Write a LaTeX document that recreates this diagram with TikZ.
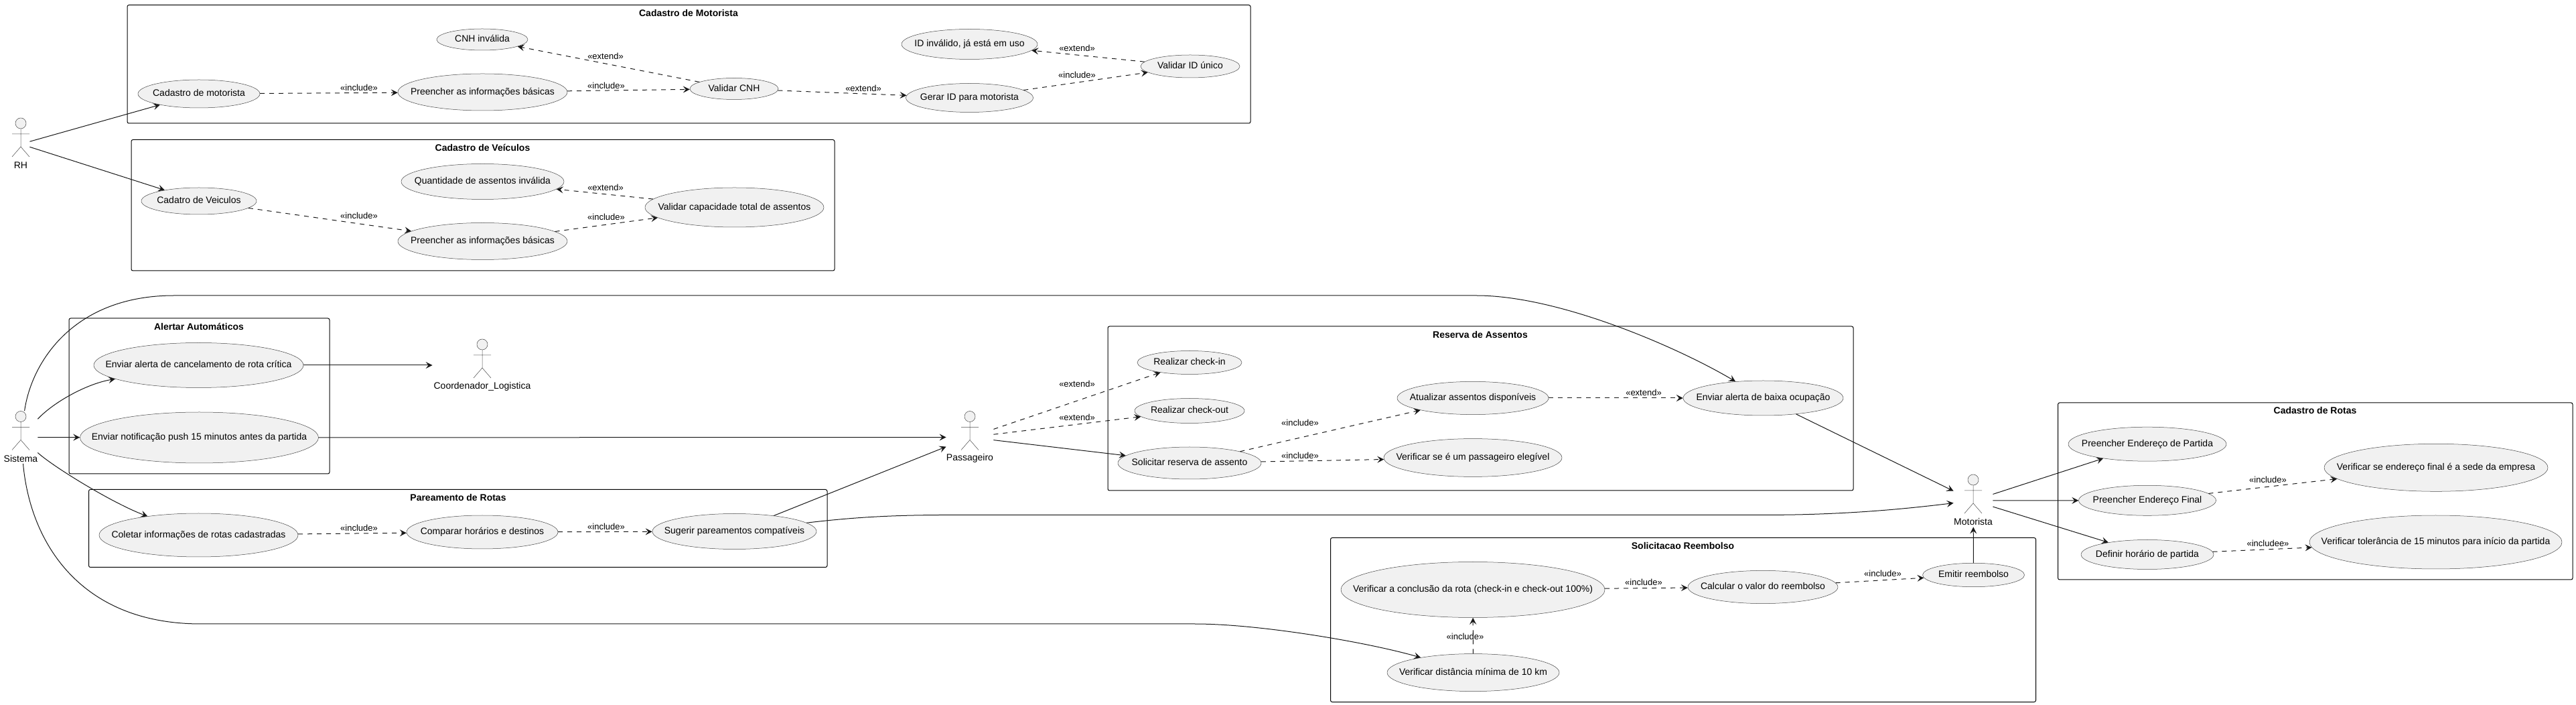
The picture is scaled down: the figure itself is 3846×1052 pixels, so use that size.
\documentclass[tikz,border=0pt]{standalone}
\usepackage{fontspec}
\setmainfont{Liberation Sans}
\usetikzlibrary{arrows.meta,shapes.geometric,fit}
\definecolor{ink}{HTML}{181818}
\definecolor{ucfill}{HTML}{F1F1F1}
\tikzset{
  ucase/.style={ellipse,draw=ink!80,fill=ucfill,line width=.25pt,inner sep=0pt,font=\fontsize{7}{8}\selectfont},
  frm/.style={draw=black,rounded corners=1.25pt,line width=.5pt,inner sep=0pt},
  ftitle/.style={font=\fontsize{7}{8}\bfseries\selectfont,inner sep=0pt},
  rel/.style={draw=ink,line width=.5pt,-{Stealth[length=5pt,width=5pt,inset=2pt]}},
  dep/.style={rel,dash pattern=on 3.5pt off 3.5pt},
  tag/.style={font=\fontsize{6.5}{7.5}\selectfont,inner sep=0pt,text=black},
  actorbox/.style={inner sep=0pt,minimum height=39pt},
  actorline/.style={draw=ink!80,line width=.25pt},
  actortext/.style={font=\fontsize{7}{8}\selectfont,inner sep=0pt},
}
\newcommand{\uc}[6]{\node[ucase,minimum width=#4pt,minimum height=#5pt] (#1) at (#2,#3) {\makebox[0pt]{\rule{0pt}{.72em}\rule[-.21em]{0pt}{.21em}#6}};}
\newcommand{\actr}[5]{%
  \node[actorbox,minimum width=#4*0.5pt] (#1) at ({#2},{#3+39}) {};
  \node[actortext] (#1-name) at ({#2},{#3+70.5}) {#5};
  \begin{scope}[shift={(#2,#3)}]
    \draw[actorline,fill=ucfill] (0,8) circle[radius=8];
    \draw[actorline] (0,16) -- (0,43) (-13,24) -- (13,24) (-13,58) -- (0,43) -- (13,58);
  \end{scope}}
\begin{document}
\begin{tikzpicture}[x=.5pt,y=-.5pt]
\useasboundingbox (0,0) rectangle (3846,1052);
% frames
\node[frm,fit={(190,7.5)(1867,184)}] (fmot) {};
\node[ftitle] (tmot) at (1028,20) {Cadastro de Motorista};
\node[frm,fit={(196,208.5)(1246,404)}] (fvei) {};
\node[ftitle] (tvei) at (720.5,220.5) {Cadastro de Veículos};
\node[frm,fit={(103,475)(492,707)}] (fale) {};
\node[ftitle] (tale) at (297,487) {Alertar Automáticos};
\node[frm,fit={(132.5,730.5)(1235,846.5)}] (fpar) {};
\node[ftitle] (tpar) at (684,742.5) {Pareamento de Rotas};
\node[frm,fit={(1654,487)(2767,732)}] (fres) {};
\node[ftitle] (tres) at (2210,499.5) {Reserva de Assentos};
\node[frm,fit={(1986.5,802.5)(3039.5,1047.5)}] (fsol) {};
\node[ftitle] (tsol) at (2512.5,814.5) {Solicitacao Reembolso};
\node[frm,fit={(3072.5,601)(3841,865)}] (frot) {};
\node[ftitle] (trot) at (3456.5,613) {Cadastro de Rotas};
% actors
\actr{rh}{31}{176}{26}{RH}
\actr{sis}{31}{613.5}{50}{Sistema}
\actr{coo}{720}{506}{148}{Coordenador\_Logistica}
\actr{pas}{1448}{613.5}{70}{Passageiro}
\actr{mot}{2946}{708}{58}{Motorista}
% use cases
\uc{cmot}{297}{140}{91}{21}{Cadastro de motorista}
\uc{cnhi}{720}{59}{68}{16}{CNH inválida}
\uc{pmot}{720.5}{137.5}{126.5}{27.5}{Preencher as informações básicas}
\uc{vcnh}{1096}{132.5}{66}{16}{Validar CNH}
\uc{gid}{1447.5}{146}{95}{21.5}{Gerar ID para motorista}
\uc{iidi}{1447.5}{66}{101.5}{22.5}{ID inválido, já está em uso}
\uc{vid}{1777}{99}{74}{17}{Validar ID único}
\uc{cvei}{297}{300}{86}{20}{Cadatro de Veiculos}
\uc{qtd}{720.5}{271}{121.5}{26.5}{Quantidade de assentos inválida}
\uc{pvei}{720.5}{360}{126.5}{27.5}{Preencher as informações básicas}
\uc{vcap}{1096.5}{309.5}{133.5}{29.5}{Validar capacidade total de assentos}
\uc{acan}{296.5}{545}{156.5}{33.5}{Enviar alerta de cancelamento de rota crítica}
\uc{push}{297.5}{653}{178}{38}{Enviar notificação push 15 minutos antes da partida}
\uc{cole}{296.5}{798.5}{148.5}{32.5}{Coletar informações de rotas cadastradas}
\uc{comp}{720}{794}{113}{25}{Comparar horários e destinos}
\uc{suge}{1096.5}{793}{122.5}{26.5}{Sugerir pareamentos compatíveis}
\uc{cin}{1776}{541}{78}{17.5}{Realizar check-in}
\uc{cout}{1776}{613}{82}{18.5}{Realizar check-out}
\uc{soli}{1776}{691}{107}{24}{Solicitar reserva de assento}
\uc{atua}{2199}{594}{113}{24.6}{Atualizar assentos disponíveis}
\uc{eleg}{2199}{683}{133}{28.4}{Verificar se é um passageiro elegível}
\uc{baix}{2632.5}{594}{119.5}{26}{Enviar alerta de baixa ocupação}
\uc{conc}{2199}{880}{197}{41.5}{Verificar a conclusão da rota (check-in e check-out 100\%)}
\uc{calc}{2632}{876}{112}{24.6}{Calcular o valor do reembolso}
\uc{emit}{2946.5}{858}{76}{17.7}{Emitir reembolso}
\uc{dist}{2199.5}{1003.6}{128.5}{28}{Verificar distância mínima de 10 km}
\uc{part}{3206}{662.7}{118}{25.5}{Preencher Endereço de Partida}
\uc{fina}{3206}{746.8}{102.5}{22.5}{Preencher Endereço Final}
\uc{hora}{3206}{827.5}{99}{22}{Definir horário de partida}
\uc{sede}{3637}{697.8}{167}{35.5}{Verificar se endereço final é a sede da empresa}
\uc{tole}{3636.5}{809}{188.5}{40}{Verificar tolerância de 15 minutos para início da partida}
% solid connectors
\draw[rel] (rh) -- (cmot);
\draw[rel] (rh) -- (cvei);
\draw[rel] (sis) .. controls (47,540) and (110,441) .. (260,441) -- (2204,441) .. controls (2330,441) and (2510,521) .. (baix);
\draw[rel] (sis) .. controls (80,600) and (130,572.4) .. (acan);
\draw[rel] (sis) -- (push);
\draw[rel] (sis) .. controls (80,697) and (170,751.8) .. (cole);
\draw[rel] (sis) .. controls (45,810) and (120,931) .. (300,931) -- (1784,931) .. controls (1880,931) and (2040,958) .. (dist);
\draw[rel] (acan) -- (coo);
\draw[rel] (push) -- (pas);
\draw[rel] (suge) -- (pas);
\draw[rel] (suge) .. controls (1290,770) and (1350,768.4) .. (1434,768.4) -- (2638,768.4) .. controls (2750,768.4) and (2840,760) .. (mot);
\draw[rel] (pas) -- (soli);
\draw[rel] (baix) -- (mot);
\draw[rel] (emit) -- (mot);
\draw[rel] (mot) -- (part);
\draw[rel] (mot) -- (fina);
\draw[rel] (mot) -- (hora);
% dashed connectors
\draw[dep] (cmot) -- (pmot);
\draw[dep] (pmot) -- (vcnh);
\draw[dep] (vcnh) -- (cnhi);
\draw[dep] (vcnh) -- (gid);
\draw[dep] (gid) -- (vid);
\draw[dep] (vid) -- (iidi);
\draw[dep] (cvei) -- (pvei);
\draw[dep] (pvei) -- (vcap);
\draw[dep] (vcap) -- (qtd);
\draw[dep] (cole) -- (comp);
\draw[dep] (comp) -- (suge);
\draw[dep] (pas) -- (cin);
\draw[dep] (pas) -- (cout);
\draw[dep] (soli) -- (atua);
\draw[dep] (soli) -- (eleg);
\draw[dep] (atua) -- (baix);
\draw[dep] (dist) -- (conc);
\draw[dep] (conc) -- (calc);
\draw[dep] (calc) -- (emit);
\draw[dep] (fina) -- (sede);
\draw[dep] (hora) -- (tole);
% labels
\node[tag] (l1) at (536,131) {«include»};
\node[tag] (l2) at (905,128) {«include»};
\node[tag] (l3) at (904,84) {«extend»};
\node[tag] (l4) at (1289,132) {«extend»};
\node[tag] (l5) at (1608,112) {«include»};
\node[tag] (l6) at (1608,72) {«extend»};
\node[tag] (l7) at (536,322) {«include»};
\node[tag] (l8) at (905,324) {«include»};
\node[tag] (l9) at (904,280) {«extend»};
\node[tag] (l10) at (536,788) {«include»};
\node[tag] (l11) at (905,786) {«include»};
\node[tag] (l12) at (1608,573) {«extend»};
\node[tag] (l13) at (1608,623) {«extend»};
\node[tag] (l14) at (1941,631) {«include»};
\node[tag] (l15) at (1941,680) {«include»};
\node[tag] (l16) at (2454,586) {«extend»};
\node[tag] (l17) at (2187.5,950) {«include»};
\node[tag] (l18) at (2454,869) {«include»};
\node[tag] (l19) at (2811,856) {«include»};
\node[tag] (l20) at (3386,716) {«include»};
\node[tag] (l21) at (3386,811) {«includee»};
\end{tikzpicture}
\end{document}
